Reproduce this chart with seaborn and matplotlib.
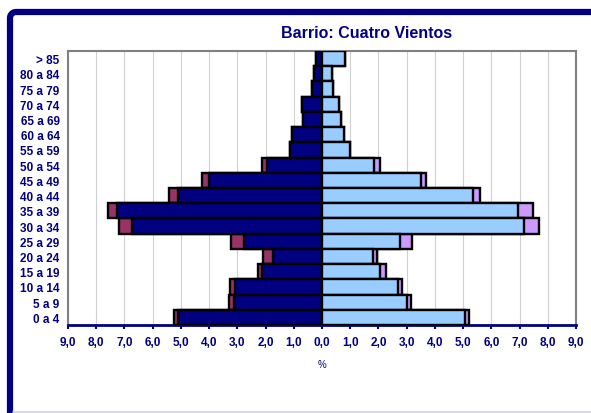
import matplotlib
matplotlib.use("Agg")
import matplotlib.pyplot as plt
from matplotlib.lines import Line2D
import seaborn as sns
import numpy as np

# age groups, top to bottom as in the chart
edades = ['> 85', '80 a 84', '75 a 79', '70 a 74', '65 a 69', '60 a 64', '55 a 59',
          '50 a 54', '45 a 49', '40 a 44', '35 a 39', '30 a 34', '25 a 29', '20 a 24',
          '15 a 19', '10 a 14', '5 a 9', '0 a 4']

# % of population (left side = hombres, right side = mujeres)
hombres_esp = [0.23, 0.30, 0.36, 0.71, 0.66, 1.08, 1.12, 1.95, 4.00, 5.10, 7.25, 6.75,
               2.78, 1.75, 2.11, 3.09, 3.13, 5.10]
hombres_ext = [0.00, 0.00, 0.00, 0.00, 0.00, 0.00, 0.00, 0.19, 0.25, 0.31, 0.33, 0.45,
               0.43, 0.33, 0.15, 0.16, 0.16, 0.14]
mujeres_esp = [0.82, 0.34, 0.39, 0.59, 0.66, 0.78, 0.99, 1.84, 3.52, 5.34, 6.95, 7.15,
               2.77, 1.82, 2.07, 2.71, 3.01, 5.07]
mujeres_ext = [0.00, 0.00, 0.00, 0.00, 0.00, 0.00, 0.00, 0.23, 0.17, 0.27, 0.52, 0.53,
               0.41, 0.12, 0.20, 0.11, 0.16, 0.13]

ticks = list(range(-9, 10))
tick_labels = [f"{abs(t)},0" for t in ticks]

navy = '#000080'
granate = '#993366'
azul_claro = '#99CCFF'
lila = '#CC99FF'

sns.set_style('white')
plt.rcParams['font.family'] = ['Liberation Sans', 'DejaVu Sans']

W, H = 591, 414
fig = plt.figure(figsize=(W / 100, H / 100), dpi=100)
ax = fig.add_axes([68 / W, 1 - 326 / H, 508 / W, 274 / H])

h_tot = -(np.array(hombres_esp) + np.array(hombres_ext))
m_tot = np.array(mujeres_esp) + np.array(mujeres_ext)

kw = dict(orient='h', width=1.0, edgecolor='black', linewidth=1.7, ax=ax, zorder=3)
sns.barplot(x=h_tot, y=edades, color=granate, saturation=1, **kw)
sns.barplot(x=-np.array(hombres_esp), y=edades, color=navy, saturation=1, **kw)
sns.barplot(x=m_tot, y=edades, color=lila, saturation=1, **kw)
sns.barplot(x=mujeres_esp, y=edades, color=azul_claro, saturation=1, **kw)

ax.set_xlim(-9, 9)
ax.set_ylim(17.5, -0.5)
ax.set_xticks(ticks)
ax.set_xticklabels(tick_labels)
ax.xaxis.grid(True, color='#D0D0D0', linewidth=0.8, zorder=0)
ax.set_axisbelow(True)

for s in ['top', 'right', 'left']:
    ax.spines[s].set_color('#808080')
    ax.spines[s].set_linewidth(1.5)
ax.spines['bottom'].set_color(navy)
ax.spines['bottom'].set_linewidth(2)

ax.tick_params(axis='x', colors=navy, length=3, width=1.5, direction='out', pad=5,
               labelsize=8.5, bottom=True)
ax.tick_params(axis='y', length=0, pad=6, labelsize=8.5, labelcolor=navy)
for lab in ax.get_xticklabels() + ax.get_yticklabels():
    lab.set_fontweight('bold')
    lab.set_color(navy)

ax.set_ylabel('')
ax.set_xlabel('%', color=navy, fontsize=7, labelpad=8)

fig.text(367 / W, 1 - 33 / H, 'Barrio: Cuatro Vientos', ha='center', va='center',
         fontsize=11.5, fontweight='bold', color=navy)

# navy frame with small rounded corner at top left (pixel coords)
r = 6
ang = np.linspace(np.pi, np.pi / 2, 10)
fx = np.concatenate([[10, 10], 10 + r + r * np.cos(ang), [W + 10]])
fy = np.concatenate([[H + 10, 13 + r], 13 + r - r * np.sin(ang), [13]])
fig.add_artist(Line2D(fx / W, 1 - fy / H, transform=fig.transFigure,
                      color=navy, linewidth=4.5, solid_joinstyle='round'))
# light bottom line
fig.add_artist(Line2D([13 / W, 1], [1.5 / H, 1.5 / H], transform=fig.transFigure,
                      color='#D4D0E4', linewidth=1.2))

fig.savefig('out.png', dpi=100)
